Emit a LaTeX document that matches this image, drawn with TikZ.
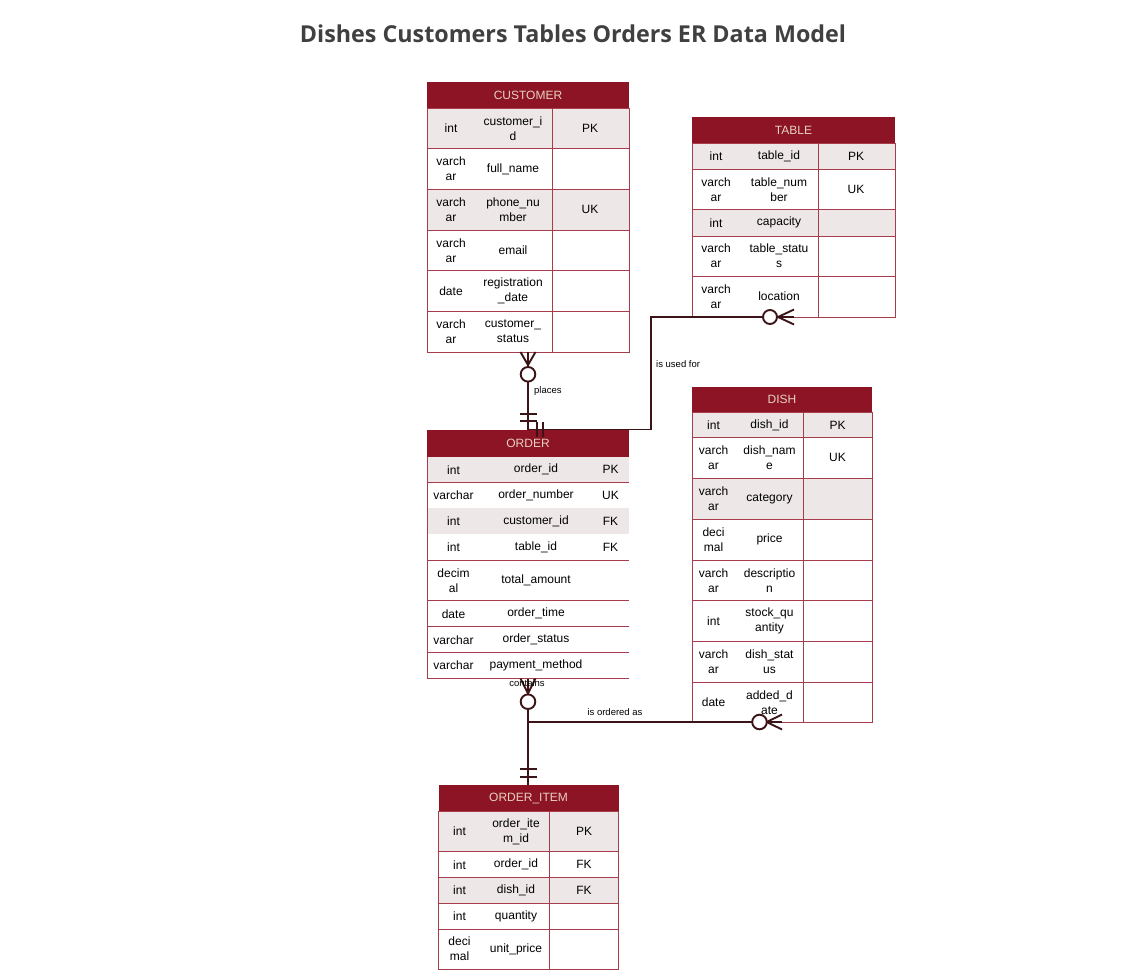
\documentclass[tikz,border=0pt]{standalone}
\usepackage{fontspec}
\setmainfont{Liberation Sans}
\newfontfamily\titlefont{Open Sans}

\definecolor{headred}{HTML}{8C1424}
\definecolor{headtext}{HTML}{E6D2BE}
\definecolor{gridred}{HTML}{A63C4C}
\definecolor{keyrow}{HTML}{EDE7E7}
\definecolor{linkdark}{HTML}{3C1418}
\definecolor{titlegray}{HTML}{404040}

\tikzset{
  header/.style = {fill = headred, text = headtext, inner sep = 0pt,
    minimum height = 26pt, font = \fontsize{12}{15}\selectfont},
  cell/.style = {draw = gridred, line width = 0.8pt},
  celltext/.style = {align = center, inner sep = 0pt, text = black,
    font = \fontsize{12}{15}\selectfont},
  link/.style = {draw = linkdark, line width = 1.9pt},
  linklabel/.style = {inner sep = 0pt, font = \fontsize{9.5}{11}\selectfont}
}

\begin{document}
\begin{tikzpicture}[x = 1pt, y = -1pt]
    \useasboundingbox (0, 0) rectangle (1146, 970);

    \node[font = \titlefont\bfseries\fontsize{23.3}{27}\selectfont, text = titlegray]
      (title) at (573, 34) {Dishes Customers Tables Orders ER Data Model};

    % CUSTOMER
    \node[header, minimum width = 202pt] (customer) at (528, 95) {CUSTOMER};
    \foreach \ya/\yb/\ctype/\cname/\ckey/\bg [count = \i] in {
        108/148.7/int/{customer\_i\\d}/PK/keyrow,
        148.7/189.3/{varch\\ar}/full\_name//white,
        189.3/230/{varch\\ar}/{phone\_nu\\mber}/UK/keyrow,
        230/270.7/{varch\\ar}/email//white,
        270.7/311.3/date/{registration\\\_date}//white,
        311.3/352/{varch\\ar}/{customer\_\\status}//white} {
      \draw[cell, fill = \bg] (427, \ya) rectangle (629, \yb);
      \draw[cell] (552.5, \ya) -- (552.5, \yb);
      \node[celltext] (customer-type-\i) at (451, {(\ya + \yb) / 2}) {\ctype};
      \node[celltext] (customer-name-\i) at (513, {(\ya + \yb) / 2}) {\cname};
      \node[celltext] (customer-key-\i) at (590, {(\ya + \yb) / 2}) {\ckey};
    }

    % TABLE
    \node[header, minimum width = 203pt] (table) at (793.5, 130.3) {TABLE};
    \foreach \ya/\yb/\ctype/\cname/\ckey/\bg [count = \i] in {
        143.5/169.5/int/table\_id/PK/keyrow,
        169.5/209.5/{varch\\ar}/{table\_num\\ber}/UK/white,
        209.5/236/int/capacity//keyrow,
        236/276.3/{varch\\ar}/{table\_statu\\s}//white,
        276.3/317/{varch\\ar}/location//white} {
      \draw[cell, fill = \bg] (692, \ya) rectangle (895, \yb);
      \draw[cell] (818, \ya) -- (818, \yb);
      \node[celltext] (table-type-\i) at (716, {(\ya + \yb) / 2}) {\ctype};
      \node[celltext] (table-name-\i) at (779, {(\ya + \yb) / 2}) {\cname};
      \node[celltext] (table-key-\i) at (856, {(\ya + \yb) / 2}) {\ckey};
    }

    % ORDER
    \node[header, minimum width = 202pt, minimum height = 26.7pt] (order) at (528, 443.35) {ORDER};
    \foreach \ya/\yb/\ctype/\cname/\ckey/\bg [count = \i] in {
        456.7/482.7/int/order\_id/PK/keyrow,
        482.7/508.3/varchar/order\_number/UK/white,
        508.3/534.3/int/customer\_id/FK/keyrow,
        534.3/560.5/int/table\_id/FK/white,
        560.5/600.7/{decim\\al}/total\_amount//white,
        600.7/626.7/date/order\_time//white,
        626.7/652.7/varchar/order\_status//white,
        652.7/678.5/varchar/payment\_method//white} {
      \fill[\bg] (427, \ya) rectangle (629, \yb);
      \draw[cell] (427, \yb) -- (629, \yb);
      \node[celltext] (order-type-\i) at (453.5, {(\ya + \yb) / 2}) {\ctype};
      \node[celltext] (order-name-\i) at (536, {(\ya + \yb) / 2}) {\cname};
      \node[celltext] (order-key-\i) at (610.5, {(\ya + \yb) / 2}) {\ckey};
    }
    \draw[cell] (427, 456.7) -- (427, 678.5);

    % DISH
    \node[header, minimum width = 180pt] (dish) at (782, 399.7) {DISH};
    \foreach \ya/\yb/\ctype/\cname/\ckey/\bg [count = \i] in {
        412.7/437.3/int/dish\_id/PK/keyrow,
        437.3/478.3/{varch\\ar}/{dish\_nam\\e}/UK/white,
        478.3/519.3/{varch\\ar}/category//keyrow,
        519.3/560.3/{deci\\mal}/price//white,
        560.3/600.7/{varch\\ar}/{descriptio\\n}//white,
        600.7/641.3/int/{stock\_qu\\antity}//white,
        641.3/682.3/{varch\\ar}/{dish\_stat\\us}//white,
        682.3/722.3/date/{added\_d\\ate}//white} {
      \draw[cell, fill = \bg] (692, \ya) rectangle (872, \yb);
      \draw[cell] (803.5, \ya) -- (803.5, \yb);
      \node[celltext] (dish-type-\i) at (713.5, {(\ya + \yb) / 2}) {\ctype};
      \node[celltext] (dish-name-\i) at (769.5, {(\ya + \yb) / 2}) {\cname};
      \node[celltext] (dish-key-\i) at (837.5, {(\ya + \yb) / 2}) {\ckey};
    }

    % ORDER_ITEM
    \node[header, minimum width = 180pt] (orderitem) at (528.5, 798) {ORDER\_ITEM};
    \foreach \ya/\yb/\ctype/\cname/\ckey/\bg [count = \i] in {
        811/851.7/int/{order\_ite\\m\_id}/PK/keyrow,
        851.7/877.7/int/order\_id/FK/white,
        877.7/903.3/int/dish\_id/FK/keyrow,
        903.3/929/int/quantity//white,
        929/969.3/{deci\\mal}/unit\_price//white} {
      \draw[cell, fill = \bg] (438.5, \ya) rectangle (618.5, \yb);
      \draw[cell] (549.5, \ya) -- (549.5, \yb);
      \node[celltext] (orderitem-type-\i) at (459.5, {(\ya + \yb) / 2}) {\ctype};
      \node[celltext] (orderitem-name-\i) at (516, {(\ya + \yb) / 2}) {\cname};
      \node[celltext] (orderitem-key-\i) at (584, {(\ya + \yb) / 2}) {\ckey};
    }

    % connector ends
    \coordinate (customer-bottom) at (528, 352);
    \coordinate (order-top) at (528, 430);
    \coordinate (table-foot) at (794, 317);
    \coordinate (usedfor-bend) at (651, 429.5);
    \coordinate (order-tablein) at (528, 429.5);
    \coordinate (order-bottom) at (528, 678.5);
    \coordinate (orderitem-top) at (528, 785);
    \coordinate (dish-foot) at (782, 722);

    % places
    \draw[link] (customer-bottom) -- (order-top);
    \draw[link] (customer-bottom) ++(-7.5, 0) -- ++(7.5, 13) -- ++(7.5, -13);
    \draw[link] (customer-bottom) -- ++(0, 13);
    \draw[link, fill = white] (customer-bottom) ++(0, 22.3) circle (7.3pt);
    \draw[link] (order-top) ++(-8.5, -9) -- ++(17, 0);
    \draw[link] (order-top) ++(-8.5, -16) -- ++(17, 0);
    \node[linklabel, anchor = west] (places-label) at (534, 391) {places};

    % is used for
    \draw[link] (table-foot) -| (usedfor-bend) -- (order-tablein);
    \draw[link] (table-foot) ++(0, -7.5) -- ++(-16, 7.5) -- ++(16, 7.5);
    \draw[link] (table-foot) -- ++(-16, 0);
    \draw[link, fill = white] (table-foot) ++(-24, 0) circle (7pt);
    \draw[link] (order-tablein) ++(8.7, -7.5) -- ++(0, 15);
    \draw[link] (order-tablein) ++(15.3, -7.5) -- ++(0, 15);
    \node[linklabel, anchor = west] (usedfor-label) at (656, 364) {is used for};

    % contains
    \draw[link] (order-bottom) -- (orderitem-top);
    \draw[link] (order-bottom) ++(-7.5, 0) -- ++(7.5, 15) -- ++(7.5, -15);
    \draw[link] (order-bottom) -- ++(0, 15);
    \draw[link, fill = white] (order-bottom) ++(0, 23.2) circle (7.3pt);
    \draw[link] (orderitem-top) ++(-8.5, -8) -- ++(17, 0);
    \draw[link] (orderitem-top) ++(-8.5, -16) -- ++(17, 0);
    \node[linklabel] (contains-label) at (527, 683) {contains};

    % is ordered as
    \draw[link] (orderitem-top) |- (dish-foot);
    \draw[link] (dish-foot) ++(0, -7.5) -- ++(-15.3, 7.5) -- ++(15.3, 7.5);
    \draw[link] (dish-foot) -- ++(-15.3, 0);
    \draw[link, fill = white] (dish-foot) ++(-22.5, 0) circle (7.3pt);
    \node[linklabel] (orderedas-label) at (615, 712) {is ordered as};
  \end{tikzpicture}
\end{document}
